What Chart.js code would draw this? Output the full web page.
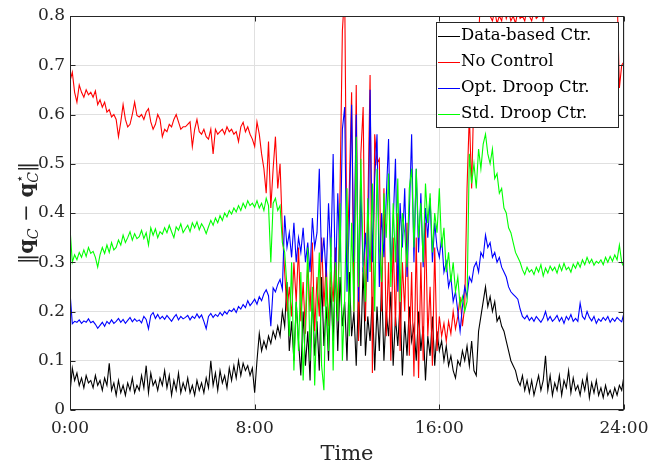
<!DOCTYPE html>
<html>
<head>
<meta charset="utf-8">
<script src="https://cdn.jsdelivr.net/npm/chart.js@4/dist/chart.umd.min.js"></script>
<style>
  body { margin: 0; background: #fff; }
  canvas { display: block; }
</style>
</head>
<body>
<canvas id="ctrlChart" width="649" height="464"></canvas>
<script>
// one sample every 6 minutes, 0:00 .. 24:00 (hours)
const hours = Array.from({ length: 241 }, (_, i) => i / 10);
const xTickValues = [0, 8, 16, 24];
const xTickLabels = ['0:00', '8:00', '16:00', '24:00'];
const yTickValues = [0, 0.1, 0.2, 0.3, 0.4, 0.5, 0.6, 0.7, 0.8];
const yTickLabels = ['0', '0.1', '0.2', '0.3', '0.4', '0.5', '0.6', '0.7', '0.8'];
const seriesNames = ['Data-based Ctr.', 'No Control', 'Opt. Droop Ctr.', 'Std. Droop Ctr.'];

// one line per hour
const dataBased = [
  0.035, 0.085, 0.06, 0.075, 0.05, 0.065, 0.045, 0.07, 0.055, 0.06,
  0.045, 0.07, 0.05, 0.06, 0.04, 0.065, 0.05, 0.095, 0.04, 0.055,
  0.03, 0.06, 0.035, 0.05, 0.03, 0.055, 0.04, 0.065, 0.035, 0.05,
  0.04, 0.07, 0.045, 0.09, 0.035, 0.075, 0.05, 0.06, 0.04, 0.065,
  0.05, 0.08, 0.045, 0.07, 0.03, 0.06, 0.04, 0.075, 0.035, 0.055,
  0.04, 0.065, 0.035, 0.05, 0.03, 0.06, 0.04, 0.055, 0.035, 0.065,
  0.045, 0.1, 0.05, 0.075, 0.04, 0.08, 0.055, 0.07, 0.045, 0.085,
  0.06, 0.09, 0.065, 0.1, 0.07, 0.095, 0.08, 0.09, 0.07, 0.085,
  0.035, 0.1, 0.155, 0.12, 0.14, 0.125, 0.15, 0.135, 0.16, 0.145,
  0.17, 0.15, 0.2, 0.17, 0.26, 0.12, 0.18, 0.1, 0.22, 0.14,
  0.07, 0.2, 0.09, 0.16, 0.06, 0.24, 0.11, 0.18, 0.08, 0.27,
  0.13, 0.21, 0.1, 0.25, 0.14, 0.3, 0.12, 0.27, 0.17, 0.22,
  0.1, 0.28, 0.15, 0.2, 0.09, 0.24, 0.13, 0.29, 0.11, 0.19,
  0.14, 0.23, 0.08, 0.21, 0.12, 0.26, 0.1, 0.2, 0.15, 0.24,
  0.09, 0.19, 0.13, 0.22, 0.07, 0.18, 0.11, 0.21, 0.14, 0.17,
  0.1, 0.2, 0.12, 0.17, 0.06, 0.15, 0.11, 0.19, 0.09, 0.16,
  0.12, 0.14, 0.1, 0.13, 0.09, 0.11, 0.08, 0.065, 0.1, 0.09,
  0.12, 0.1, 0.13, 0.09, 0.14, 0.08, 0.07, 0.16, 0.19, 0.22,
  0.25, 0.21, 0.23, 0.2, 0.22, 0.18, 0.19, 0.17, 0.16, 0.14,
  0.12, 0.1, 0.09, 0.08, 0.06, 0.05, 0.07, 0.04, 0.06, 0.035,
  0.06, 0.03, 0.05, 0.07, 0.04, 0.06, 0.11, 0.04, 0.07, 0.03,
  0.055, 0.04, 0.07, 0.03, 0.06, 0.045, 0.08, 0.035, 0.065, 0.04,
  0.05, 0.03, 0.06, 0.04, 0.07, 0.025, 0.055, 0.035, 0.06, 0.03,
  0.045, 0.025, 0.05, 0.03, 0.04, 0.025, 0.045, 0.03, 0.05, 0.04,
  0.07
];

const noControl = [
  0.668, 0.686, 0.645, 0.625, 0.66, 0.645, 0.635, 0.65, 0.64, 0.645,
  0.635, 0.648, 0.62, 0.63, 0.615, 0.625, 0.605, 0.61, 0.595, 0.6,
  0.59, 0.555, 0.585, 0.62, 0.59, 0.575, 0.58, 0.6, 0.625, 0.598,
  0.595, 0.6, 0.59, 0.605, 0.612, 0.585, 0.57, 0.58, 0.6, 0.59,
  0.555, 0.57, 0.565, 0.58, 0.575, 0.59, 0.6, 0.585, 0.57, 0.575,
  0.575, 0.58, 0.585, 0.535, 0.57, 0.59, 0.565, 0.56, 0.57, 0.555,
  0.55, 0.57, 0.52, 0.57, 0.56, 0.565, 0.57, 0.56, 0.575, 0.565,
  0.57, 0.56, 0.565, 0.545, 0.575, 0.584, 0.565, 0.575, 0.56, 0.55,
  0.535, 0.585, 0.56, 0.52, 0.49, 0.44, 0.545, 0.41, 0.49, 0.555,
  0.45, 0.5, 0.365, 0.28, 0.2, 0.25, 0.19, 0.3, 0.22, 0.33,
  0.18, 0.26, 0.155, 0.3, 0.2, 0.34, 0.16, 0.27, 0.19, 0.35,
  0.21, 0.3, 0.17, 0.28, 0.22, 0.33, 0.19, 0.45, 0.77, 0.85,
  0.3, 0.45, 0.645, 0.2, 0.66, 0.14, 0.52, 0.615, 0.18, 0.4,
  0.68, 0.075, 0.56, 0.5, 0.51, 0.2, 0.45, 0.15, 0.3, 0.1,
  0.35, 0.17, 0.4, 0.12, 0.3, 0.2, 0.38, 0.11, 0.28, 0.068,
  0.35, 0.065, 0.3, 0.1, 0.38, 0.15, 0.25, 0.09, 0.33, 0.12,
  0.19, 0.15, 0.176, 0.14, 0.18, 0.155, 0.2, 0.165, 0.19, 0.23,
  0.17, 0.21, 0.45, 0.6, 0.45, 0.65, 0.7, 0.75, 0.86, 0.9,
  0.88, 0.92, 0.8, 0.79, 0.81, 0.785, 0.8, 0.79, 0.82, 0.795,
  0.81, 0.79, 0.8, 0.785, 0.81, 0.795, 0.8, 0.79, 0.815, 0.8,
  0.79, 0.81, 0.795, 0.8, 0.82, 0.79, 0.81, 0.85, 0.88, 0.9,
  0.9, 0.92, 0.89, 0.93, 0.9, 0.91, 0.88, 0.92, 0.9, 0.91,
  0.92, 0.9, 0.93, 0.91, 0.89, 0.92, 0.9, 0.93, 0.91, 0.9,
  0.9, 0.92, 0.89, 0.91, 0.9, 0.88, 0.9, 0.85, 0.654, 0.7,
  0.707
];

const optDroop = [
  0.24, 0.175, 0.18, 0.178, 0.183, 0.176, 0.181, 0.178, 0.185, 0.177,
  0.18, 0.174, 0.166, 0.172, 0.178, 0.17, 0.18, 0.175, 0.183, 0.176,
  0.18, 0.186, 0.178, 0.184, 0.176, 0.182, 0.188, 0.179, 0.185, 0.18,
  0.183, 0.177, 0.19, 0.184, 0.165, 0.192, 0.198, 0.186, 0.194, 0.185,
  0.19, 0.184, 0.192, 0.186, 0.18, 0.188, 0.194, 0.183, 0.19, 0.185,
  0.188, 0.192, 0.183, 0.19, 0.186, 0.195, 0.187, 0.193, 0.18, 0.165,
  0.19, 0.196, 0.188, 0.194, 0.19, 0.198, 0.192, 0.2, 0.195, 0.203,
  0.2, 0.206, 0.198, 0.21, 0.205, 0.214, 0.208, 0.222, 0.212, 0.218,
  0.225, 0.215, 0.23, 0.222, 0.236, 0.244, 0.232, 0.17, 0.248, 0.24,
  0.255, 0.265, 0.245, 0.395, 0.33, 0.36, 0.31, 0.38, 0.3, 0.35,
  0.32, 0.37, 0.3, 0.34, 0.28, 0.39, 0.33, 0.36, 0.49, 0.3,
  0.35, 0.27, 0.42, 0.31, 0.52, 0.25, 0.44, 0.3, 0.57, 0.615,
  0.24, 0.38, 0.62, 0.3, 0.6, 0.22, 0.45, 0.28, 0.36, 0.26,
  0.65, 0.3, 0.47, 0.56, 0.25, 0.4, 0.31, 0.43, 0.55, 0.28,
  0.38, 0.51, 0.24, 0.42, 0.33, 0.45, 0.27, 0.4, 0.56, 0.3,
  0.49, 0.32, 0.44, 0.29, 0.41, 0.35, 0.43, 0.3, 0.38, 0.33,
  0.31, 0.35, 0.28, 0.3, 0.25, 0.27, 0.22, 0.24, 0.2, 0.16,
  0.21, 0.25, 0.23, 0.27, 0.26, 0.29, 0.3, 0.28, 0.32, 0.31,
  0.355, 0.33, 0.34, 0.31, 0.32, 0.3, 0.31, 0.29, 0.28, 0.27,
  0.25, 0.24, 0.235, 0.23, 0.225, 0.205, 0.19, 0.185, 0.192, 0.182,
  0.188, 0.18, 0.19, 0.184, 0.178, 0.186, 0.2, 0.182, 0.19, 0.18,
  0.185, 0.192, 0.18, 0.188, 0.176, 0.19, 0.183, 0.194, 0.18, 0.186,
  0.18, 0.217, 0.19, 0.184, 0.2, 0.188, 0.181, 0.19, 0.176, 0.185,
  0.18, 0.188, 0.182, 0.19, 0.178, 0.186, 0.18, 0.188, 0.183, 0.179,
  0.197
];

const stdDroop = [
  0.37, 0.3, 0.315, 0.305, 0.32, 0.31, 0.325, 0.312, 0.33, 0.318,
  0.322, 0.31, 0.29, 0.315, 0.33, 0.318, 0.335, 0.32, 0.34, 0.325,
  0.33, 0.345, 0.335, 0.355, 0.34, 0.35, 0.362, 0.345, 0.358, 0.348,
  0.352, 0.365, 0.348, 0.36, 0.335, 0.37, 0.355, 0.368, 0.35, 0.362,
  0.357, 0.37, 0.36, 0.375, 0.362, 0.35, 0.372, 0.365, 0.378, 0.36,
  0.368, 0.375, 0.362, 0.38, 0.37, 0.382, 0.366, 0.378, 0.37, 0.358,
  0.372, 0.385, 0.375, 0.39, 0.38, 0.395, 0.385, 0.4, 0.392, 0.405,
  0.398, 0.41, 0.402, 0.415, 0.405, 0.42, 0.41, 0.425, 0.415, 0.42,
  0.412, 0.425, 0.41, 0.42, 0.405, 0.43, 0.415, 0.3, 0.42, 0.43,
  0.405, 0.415, 0.34, 0.32, 0.25, 0.15, 0.3, 0.08, 0.22, 0.12,
  0.28, 0.06, 0.18, 0.33, 0.1, 0.25, 0.05, 0.2, 0.32, 0.09,
  0.04, 0.27, 0.12, 0.35, 0.08, 0.3, 0.18, 0.42, 0.1, 0.23,
  0.45, 0.15, 0.38, 0.2, 0.555, 0.25, 0.51, 0.3, 0.22, 0.43,
  0.28, 0.46, 0.2, 0.49, 0.33, 0.26, 0.44, 0.35, 0.48, 0.25,
  0.42, 0.3, 0.47, 0.22, 0.4, 0.36, 0.29, 0.45, 0.49, 0.33,
  0.49, 0.35, 0.42, 0.3, 0.46, 0.38, 0.44, 0.32, 0.4, 0.36,
  0.45, 0.33, 0.37, 0.28, 0.32, 0.26, 0.3, 0.24, 0.27, 0.21,
  0.23, 0.2, 0.22, 0.52, 0.46, 0.5, 0.45, 0.53, 0.49, 0.54,
  0.56, 0.52, 0.5, 0.53, 0.47, 0.48, 0.44, 0.45, 0.41, 0.4,
  0.37, 0.36, 0.34, 0.32, 0.31, 0.3, 0.285, 0.275, 0.29, 0.28,
  0.285, 0.275, 0.29, 0.28, 0.295, 0.272, 0.288, 0.278, 0.292, 0.283,
  0.29, 0.278, 0.295, 0.283, 0.298, 0.285, 0.29, 0.28, 0.296, 0.288,
  0.3, 0.29, 0.305, 0.295, 0.31, 0.298, 0.306, 0.294, 0.302, 0.298,
  0.305, 0.295, 0.31, 0.3, 0.312, 0.302, 0.315, 0.305, 0.335, 0.3,
  0.29
];

const SERIF = '"DejaVu Serif", "Liberation Serif", serif';
const AXIS_COLOR = '#262626';

// box round the axes + MATLAB style inward ticks
const axesBox = {
  id: 'axesBox',
  afterDatasetsDraw(chart) {
    const { ctx, chartArea: a, scales } = chart;
    const L = Math.round(a.left) + 0.5, R = Math.round(a.right) - 0.5;
    const T = Math.round(a.top) + 0.5, B = Math.round(a.bottom) - 0.5;
    ctx.save();
    ctx.strokeStyle = AXIS_COLOR;
    ctx.lineWidth = 1;
    ctx.strokeRect(L, T, R - L, B - T);
    ctx.beginPath();
    xTickValues.forEach(v => {
      const px = Math.round(scales.x.getPixelForValue(v)) + 0.5;
      ctx.moveTo(px, B); ctx.lineTo(px, B - 5);
      ctx.moveTo(px, T); ctx.lineTo(px, T + 5);
    });
    yTickValues.forEach(v => {
      const py = Math.round(scales.y.getPixelForValue(v)) + 0.5;
      ctx.moveTo(L, py); ctx.lineTo(L + 5, py);
      ctx.moveTo(R, py); ctx.lineTo(R - 5, py);
    });
    ctx.stroke();
    ctx.restore();
  },
  afterDraw(chart) {
    const { ctx } = chart;
    // legend, top right inside the axes
    const bx = 436.5, by = 22.5, bw = 182, bh = 105;
    ctx.save();
    ctx.fillStyle = '#fff';
    ctx.fillRect(bx, by, bw, bh);
    ctx.strokeStyle = AXIS_COLOR;
    ctx.lineWidth = 1;
    ctx.strokeRect(bx, by, bw, bh);
    ctx.font = '16.5px ' + SERIF;
    ctx.textBaseline = 'middle';
    ctx.fillStyle = '#000';
    chart.data.datasets.forEach((ds, i) => {
      const y = 35.5 + i * 26.2;
      ctx.strokeStyle = ds.borderColor;
      ctx.beginPath();
      ctx.moveTo(438, Math.round(y) + 0.5);
      ctx.lineTo(460, Math.round(y) + 0.5);
      ctx.stroke();
      ctx.fillText(ds.label, 461, y);
    });
    ctx.restore();

    // y axis label: ||q_C - q*_C||
    const big = '21px ' + SERIF, bold = 'bold 21px ' + SERIF;
    const sub = 'italic 14px ' + SERIF, star = '13px "DejaVu Sans", sans-serif';
    const parts = [
      { t: '\u2016', f: big, dy: 0 },
      { t: 'q', f: bold, dy: 0 },
      { t: 'C', f: sub, dy: 5 },
      { t: ' \u2212 ', f: big, dy: 0 },
      { t: 'q', f: bold, dy: 0 },
      { t: '\u22c6', f: star, dy: -9, stack: true },
      { t: 'C', f: sub, dy: 5 },
      { t: '\u2016', f: big, dy: 0 }
    ];
    let total = 0;
    parts.forEach(p => {
      ctx.font = p.f;
      p.w = ctx.measureText(p.t).width;
      if (!p.stack) total += p.w;
    });
    ctx.save();
    ctx.translate(26, 213);
    ctx.rotate(-Math.PI / 2);
    ctx.fillStyle = AXIS_COLOR;
    ctx.textBaseline = 'alphabetic';
    let x = -total / 2;
    parts.forEach(p => {
      ctx.font = p.f;
      ctx.fillText(p.t, x, 7 + p.dy);
      if (!p.stack) x += p.w;
    });
    ctx.restore();
  }
};

const colors = ['#000000', '#ff0000', '#0000ff', '#00ff00'];
const series = [dataBased, noControl, optDroop, stdDroop];

new Chart(document.getElementById('ctrlChart'), {
  type: 'line',
  data: {
    labels: hours,
    datasets: series.map((values, i) => ({
      label: seriesNames[i],
      data: values,
      borderColor: colors[i],
      borderWidth: 1.1,
      pointRadius: 0,
      tension: 0,
      fill: false,
      order: 4 - i
    }))
  },
  options: {
    responsive: false,
    animation: false,
    devicePixelRatio: 1,
    layout: { padding: { top: 16, right: 25, left: 0, bottom: 0 } },
    plugins: {
      legend: { display: false },
      tooltip: { enabled: false }
    },
    scales: {
      x: {
        type: 'linear',
        min: 0,
        max: 24,
        afterBuildTicks: s => { s.ticks = xTickValues.map(v => ({ value: v })); },
        afterFit: s => { s.height = 54; s.paddingLeft = 0; s.paddingRight = 0; },
        grid: { color: '#e0e0e0', drawTicks: false },
        border: { display: false },
        ticks: {
          autoSkip: false,
          maxRotation: 0,
          padding: 8,
          color: AXIS_COLOR,
          font: { family: SERIF, size: 17 },
          callback: v => xTickLabels[xTickValues.indexOf(v)]
        },
        title: {
          display: true,
          text: 'Time',
          color: AXIS_COLOR,
          font: { family: SERIF, size: 21, lineHeight: 0.9 },
          padding: { top: 0, bottom: 0 }
        }
      },
      y: {
        min: 0,
        max: 0.8,
        afterBuildTicks: s => { s.ticks = yTickValues.map(v => ({ value: v })); },
        afterFit: s => { s.width = 70; s.paddingTop = 0; s.paddingBottom = 0; },
        grid: { color: '#e0e0e0', drawTicks: false },
        border: { display: false },
        ticks: {
          padding: 5,
          color: AXIS_COLOR,
          font: { family: SERIF, size: 17 },
          callback: v => yTickLabels[yTickValues.indexOf(v)]
        }
      }
    }
  },
  plugins: [axesBox]
});
</script>
</body>
</html>
